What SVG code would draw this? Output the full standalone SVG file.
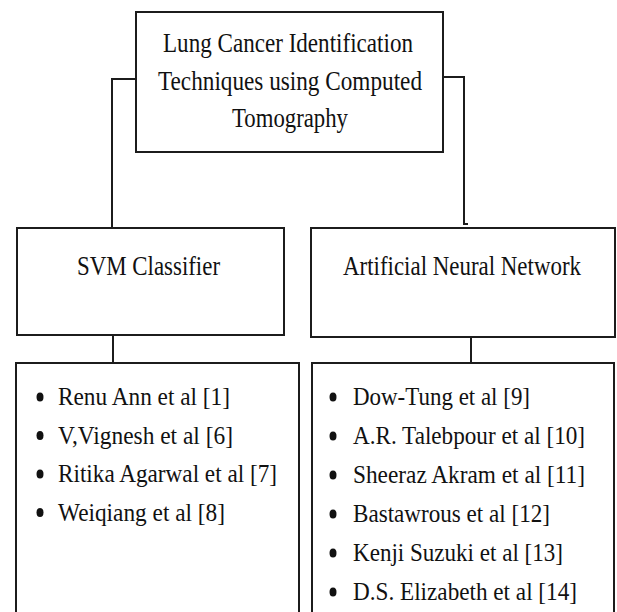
<svg xmlns="http://www.w3.org/2000/svg" width="617" height="612" viewBox="0 0 617 612">
<style>
.box{fill:#fff;stroke:#1c1c1c;stroke-width:2}
.ln{fill:none;stroke:#1c1c1c;stroke-width:2}
.h{font-size:28px;fill:#111;text-anchor:middle}
.t{font-size:26px;fill:#111}
.b{fill:#111}
</style>
<rect width="617" height="612" fill="#fff"/>
<g id="connectors">
<path class="ln" d="M137,79 H112 V228"/>
<path class="ln" d="M443,77 H464 V224 H468"/>
<path class="ln" d="M113,335 V363"/>
<path class="ln" d="M471,337 V363"/>
</g>
<g font-family="Liberation Serif, Times New Roman, DejaVu Serif, serif">
<g id="root">
<rect class="box" x="136" y="12" width="307" height="140"/>
<text class="h" x="288" y="52" textLength="250" lengthAdjust="spacingAndGlyphs">Lung Cancer Identification</text>
<text class="h" x="290" y="90" textLength="264" lengthAdjust="spacingAndGlyphs">Techniques using Computed</text>
<text class="h" x="290" y="127" textLength="116" lengthAdjust="spacingAndGlyphs">Tomography</text>
</g>
<g id="svm">
<rect class="box" x="17" y="228" width="267" height="107"/>
<text class="h" x="148.5" y="275" textLength="143" lengthAdjust="spacingAndGlyphs">SVM Classifier</text>
</g>
<g id="ann">
<rect class="box" x="311" y="228" width="304" height="109"/>
<text class="h" x="462" y="275" font-size="26" textLength="238" lengthAdjust="spacingAndGlyphs">Artificial Neural Network</text>
</g>
<g id="svm-list">
<rect class="box" x="16" y="363" width="283" height="260"/>
<ellipse class="b" cx="40" cy="397" rx="3.5" ry="4.5"/>
<ellipse class="b" cx="40" cy="435.5" rx="3.5" ry="4.5"/>
<ellipse class="b" cx="40" cy="474" rx="3.5" ry="4.5"/>
<ellipse class="b" cx="40" cy="512.5" rx="3.5" ry="4.5"/>
<text class="t" x="58" y="405" textLength="172" lengthAdjust="spacingAndGlyphs">Renu Ann et al [1]</text>
<text class="t" x="58" y="443.5" textLength="175" lengthAdjust="spacingAndGlyphs">V,Vignesh et al [6]</text>
<text class="t" x="58" y="482" textLength="219" lengthAdjust="spacingAndGlyphs">Ritika Agarwal et al [7]</text>
<text class="t" x="58" y="520.5" textLength="167" lengthAdjust="spacingAndGlyphs">Weiqiang et al [8]</text>
</g>
<g id="ann-list">
<rect class="box" x="312" y="363" width="302" height="260"/>
<ellipse class="b" cx="333" cy="397" rx="3.5" ry="4.5"/>
<ellipse class="b" cx="333" cy="436" rx="3.5" ry="4.5"/>
<ellipse class="b" cx="333" cy="475" rx="3.5" ry="4.5"/>
<ellipse class="b" cx="333" cy="514" rx="3.5" ry="4.5"/>
<ellipse class="b" cx="333" cy="553" rx="3.5" ry="4.5"/>
<ellipse class="b" cx="333" cy="592" rx="3.5" ry="4.5"/>
<text class="t" x="353" y="405" textLength="177" lengthAdjust="spacingAndGlyphs">Dow-Tung et al [9]</text>
<text class="t" x="353" y="444" textLength="232" lengthAdjust="spacingAndGlyphs">A.R. Talebpour et al [10]</text>
<text class="t" x="353" y="483" textLength="232" lengthAdjust="spacingAndGlyphs">Sheeraz Akram et al [11]</text>
<text class="t" x="353" y="522" textLength="197" lengthAdjust="spacingAndGlyphs">Bastawrous et al [12]</text>
<text class="t" x="353" y="561" textLength="210" lengthAdjust="spacingAndGlyphs">Kenji Suzuki et al [13]</text>
<text class="t" x="353" y="600" textLength="224" lengthAdjust="spacingAndGlyphs">D.S. Elizabeth et al [14]</text>
</g>
</g>
</svg>
